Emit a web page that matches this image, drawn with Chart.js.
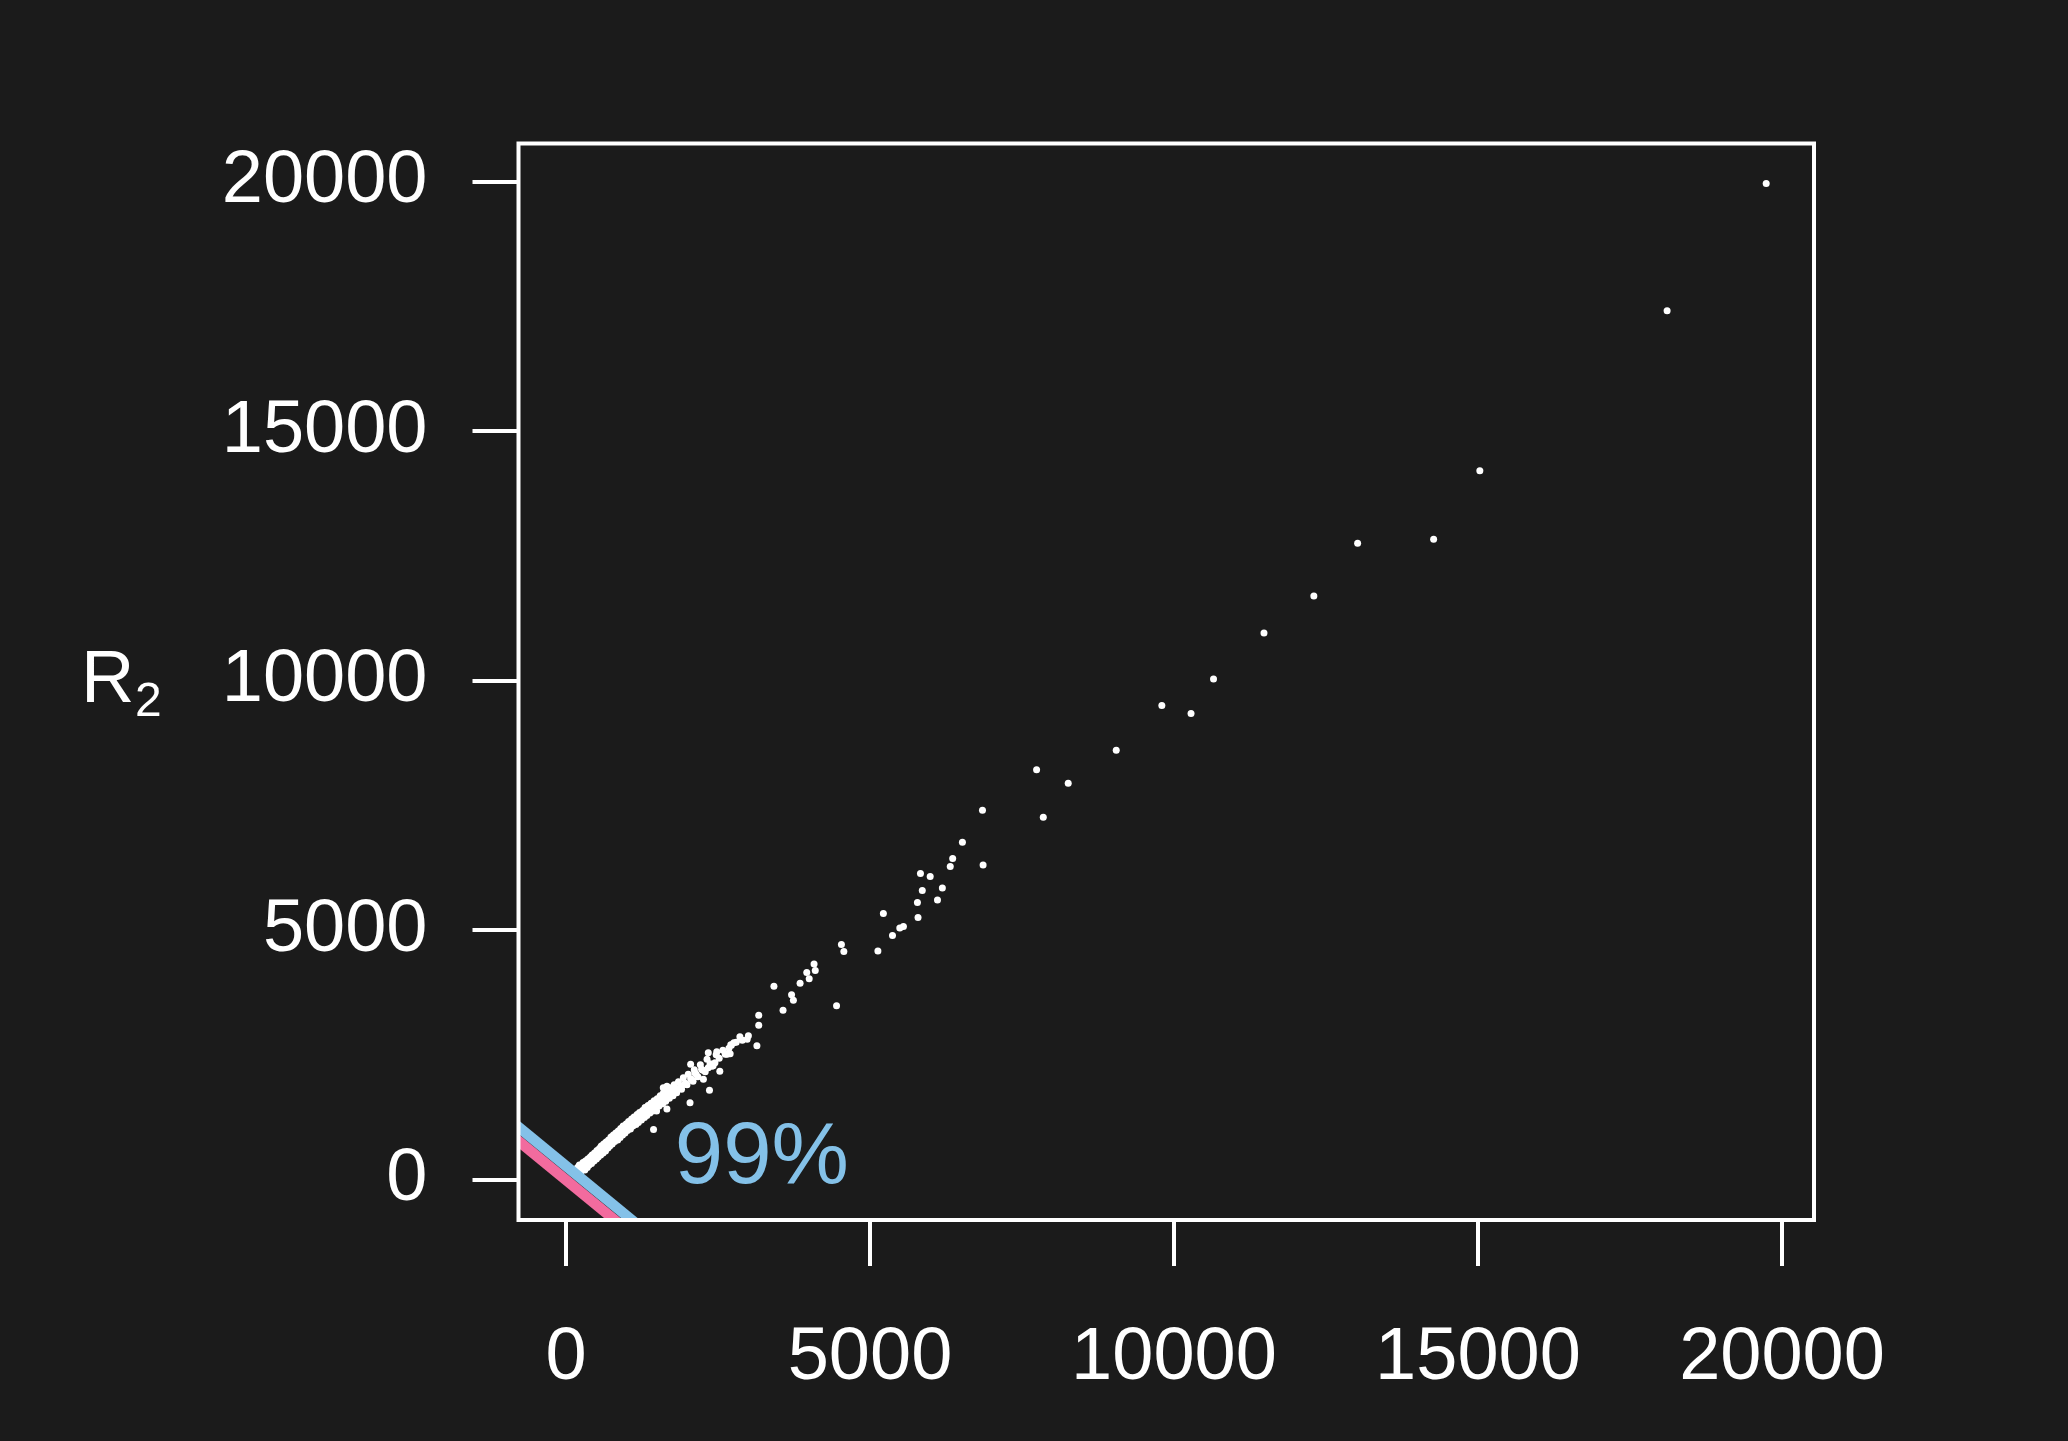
<!DOCTYPE html>
<html>
<head>
<meta charset="utf-8">
<script src="https://cdn.jsdelivr.net/npm/chart.js@4/dist/chart.umd.min.js"></script>
<style>
  html, body { margin: 0; padding: 0; background: #1b1b1b; }
  #wrap { width: 2068px; height: 1441px; }
</style>
</head>
<body>
<div id="wrap"><canvas id="c" width="2068" height="1441" style="width:2068px;height:1441px"></canvas></div>
<script>
// ---- data ----
const xTicks = [0, 5000, 10000, 15000, 20000];
const yTicks = [0, 5000, 10000, 15000, 20000];
const xRange = [-781, 20526];
const yRange = [-802, 20770];

const pointsX = [
  19740, 18110, 15030, 14270, 13020, 12300, 11480, 10650, 9800, 10280, 9050, 7740, 8260, 7850,
  6850, 6520, 6360, 6320, 6860, 5830, 5990, 5860, 6190, 5780, 6110, 5220, 5790, 5490, 5550, 5370, 5130,
  4530, 4570, 4080, 4100, 3960, 4000, 3850, 3420, 3710, 3740, 3570, 4450, 3170, 3170, 3000, 2980,
  3140, 2760, 2710, 2650, 2700, 2480, 2340, 2050, 2530, 2450, 2400, 2340, 2230, 2120, 2260, 2360, 2040,
  2090, 1980, 1900, 1790, 1710, 1630, 1550, 1460, 1410, 1600, 1660, 1490, 1660, 1440,
  180, 190, 210, 220, 240, 250, 270, 280, 290, 310, 320, 330, 350, 360, 370, 380, 400, 410, 420, 430,
  450, 460, 470, 480, 500, 510, 520, 530, 550, 560, 570, 580, 600, 610, 620, 630, 650, 660, 670, 690,
  700, 710, 720, 740, 750, 760, 780, 790, 800, 820, 830, 850, 860, 870, 890, 900, 910, 930, 940, 950,
  970, 990, 1000, 1010, 1030, 1040, 1060, 1080, 1090, 1100, 1120, 1130, 1150, 1170, 1180, 1190, 1210, 1220, 1240, 1260,
  1270, 1290, 1300, 1320, 1330, 1350, 1360, 1380, 1400, 1410, 1430, 1450, 1460, 1480, 1500, 1510, 1530, 1550, 1560, 1590,
  1600, 1620, 1640, 1650, 1670, 1700, 1710, 1730, 1760, 1780, 1800, 1820, 1850, 1870, 1900, 1930, 1960, 1990, 2010, 2050,
  2080, 2110, 2140, 2170, 2210, 2250, 2290, 2320, 2370, 2420, 2470, 2520, 2580, 2620, 2680, 2720, 2800, 2860, 2900
];
const pointsY = [
  19970, 17420, 14210, 12840, 12760, 11700, 10960, 10040, 9510, 9350, 8610, 8220, 7950, 7270,
  7410, 6770, 6440, 6280, 6310, 6140, 6080, 5800, 5850, 5560, 5610, 5340, 5260, 5050, 5080, 4900, 4590,
  4720, 4580, 4330, 4200, 4160, 4030, 3940, 3880, 3710, 3600, 3400, 3490, 3300, 3100, 2890, 2820,
  2690, 2750, 2710, 2520, 2530, 2570, 2550, 2320, 2180, 2350, 2280, 2250, 2220, 2150, 2020, 1800, 1550,
  1980, 1920, 1880, 1820, 1750, 1680, 1620, 1550, 1480, 1850, 1880, 1380, 1420, 1010,
  120, 250, 180, 300, 150, 260, 210, 350, 240, 200, 380, 290, 250, 420, 330, 300, 460, 360, 330, 500,
  420, 380, 540, 450, 420, 590, 500, 460, 630, 540, 500, 680, 570, 540, 720, 620, 580, 760, 660, 640,
  800, 700, 680, 860, 740, 720, 900, 780, 770, 940, 830, 800, 980, 880, 850, 1030, 920, 900, 1080, 960,
  940, 1120, 1010, 990, 1170, 1060, 1020, 1220, 1100, 1080, 1260, 1150, 1110, 1310, 1190, 1150, 1350, 1240, 1200, 1390,
  1280, 1250, 1450, 1330, 1290, 1490, 1380, 1340, 1540, 1420, 1380, 1590, 1470, 1430, 1630, 1520, 1480, 1690, 1560, 1530,
  1740, 1620, 1580, 1790, 1660, 1640, 1850, 1720, 1690, 1910, 1790, 1750, 1970, 1850, 1820, 2050, 1940, 1910, 2120, 2030,
  2000, 2210, 2120, 2070, 2310, 2200, 2170, 2420, 2330, 2290, 2510, 2440, 2600, 2520, 2640, 2700, 2760, 2870, 2800
];

// reference lines x + y = c
const pinkLineX = [-1000, 1000];
const pinkLineY = [1000, -1000];
const blueLineX = [-1000, 1280];
const blueLineY = [1280, -1000];

const annotationText = "99%";
const annotationAt = { x: 1790, y: -60 };
const yAxisLabel = "R";
const yAxisSub = "2";

// ---- styles ----
const FONT = '"Liberation Sans", Arial, Helvetica, sans-serif';
const WHITE = '#ffffff';
const BLUE = '#84c1e8';
const PINK = '#f26b9e';
const LW = 4;

const scatterData = pointsX.map((x, i) => ({ x: x, y: pointsY[i] }));
const pinkData = pinkLineX.map((x, i) => ({ x: x, y: pinkLineY[i] }));
const blueData = blueLineX.map((x, i) => ({ x: x, y: blueLineY[i] }));

const decor = {
  id: 'decor',
  afterDraw(chart) {
    const ctx = chart.ctx;
    const a = chart.chartArea;
    ctx.save();
    ctx.strokeStyle = WHITE;
    ctx.lineWidth = LW;
    ctx.strokeRect(a.left, a.top, a.right - a.left, a.bottom - a.top);
    const xs = chart.scales.x, ys = chart.scales.y;
    ctx.fillStyle = BLUE;
    ctx.font = '87px ' + FONT;
    ctx.textAlign = 'left';
    ctx.textBaseline = 'alphabetic';
    ctx.fillText(annotationText, xs.getPixelForValue(annotationAt.x), ys.getPixelForValue(annotationAt.y));
    ctx.fillStyle = WHITE;
    ctx.font = '74px ' + FONT;
    ctx.fillText(yAxisLabel, 81, 702);
    ctx.font = '48px ' + FONT;
    ctx.fillText(yAxisSub, 135, 716);
    ctx.restore();
  }
};

new Chart(document.getElementById('c'), {
  type: 'scatter',
  data: {
    datasets: [
      { data: blueData, showLine: true, borderColor: BLUE, borderWidth: 10.5, pointRadius: 0, clip: 0, order: 0, borderCapStyle: 'butt' },
      { data: pinkData, showLine: true, borderColor: PINK, borderWidth: 10.5, pointRadius: 0, clip: 0, order: 1, borderCapStyle: 'butt' },
      { data: scatterData, backgroundColor: WHITE, borderWidth: 0, pointRadius: 3.5, order: 2 }
    ]
  },
  options: {
    responsive: false,
    devicePixelRatio: 1,
    animation: false,
    events: [],
    layout: { padding: { left: 0, top: 143.5, right: 254, bottom: 0 } },
    plugins: { legend: { display: false }, tooltip: { enabled: false } },
    scales: {
      x: {
        type: 'linear',
        min: xRange[0], max: xRange[1],
        afterBuildTicks: (axis) => { axis.ticks = xTicks.map(v => ({ value: v })); },
        afterFit: (axis) => { axis.height = 221; },
        grid: { drawOnChartArea: false, drawTicks: true, tickLength: 46, color: WHITE, lineWidth: LW },
        border: { display: false },
        ticks: { color: WHITE, font: { family: FONT, size: 74 }, padding: 48, maxRotation: 0, autoSkip: false, callback: (v) => String(v) }
      },
      y: {
        type: 'linear',
        min: yRange[0], max: yRange[1],
        afterBuildTicks: (axis) => { axis.ticks = yTicks.map(v => ({ value: v })); },
        afterFit: (axis) => { axis.width = 518.5; },
        grid: { drawOnChartArea: false, drawTicks: true, tickLength: 46, color: WHITE, lineWidth: LW },
        border: { display: false },
        ticks: { color: WHITE, font: { family: FONT, size: 74 }, padding: 45, autoSkip: false, callback: (v) => String(v) }
      }
    }
  },
  plugins: [decor]
});
</script>
</body>
</html>
